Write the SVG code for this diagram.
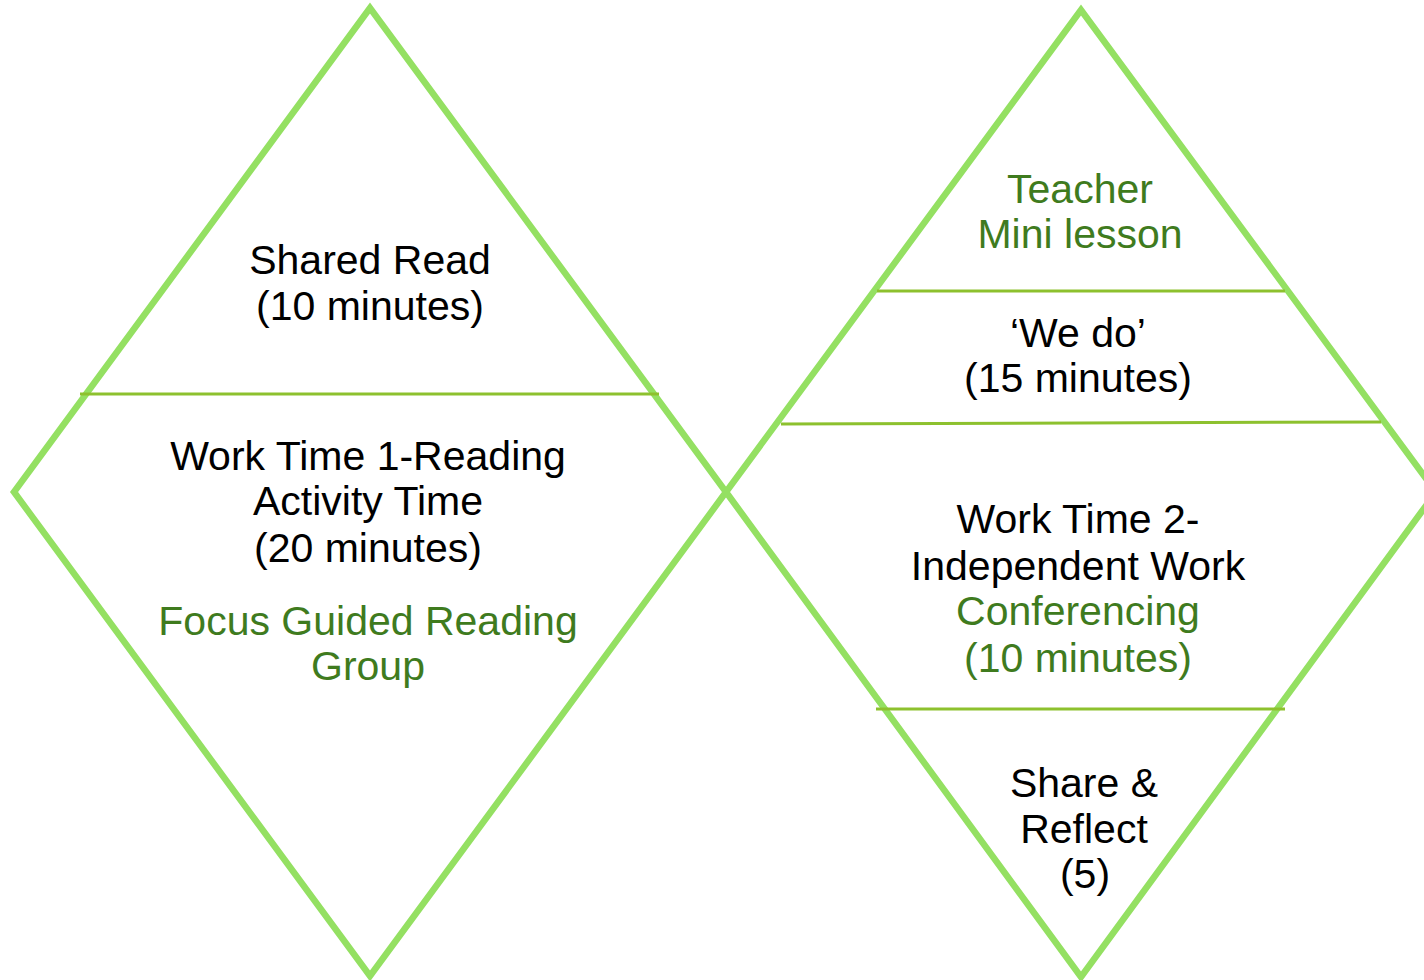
<svg xmlns="http://www.w3.org/2000/svg" width="1424" height="980" viewBox="0 0 1424 980">
<style>
.dia{fill:none;stroke:#94E062;stroke-width:6.5;stroke-linejoin:miter}
.div{stroke:#8DC12E;stroke-width:3}
text{font-family:"Liberation Sans",Arial,sans-serif;font-size:41px;text-anchor:middle}
.k{fill:#000}
.g{fill:#3F7B1E}
</style>
<rect width="1424" height="980" fill="#fff"/>
<g id="left-diamond">
<polygon class="dia" points="370,8 14,492 370,976 726,492"/>
<line class="div" x1="80" y1="394" x2="659" y2="394"/>
</g>
<g id="right-diamond">
<polygon class="dia" points="1081,10 726,492 1081,977 1436,492"/>
<line class="div" x1="877" y1="291" x2="1285" y2="291"/>
<line class="div" x1="781" y1="424" x2="1381" y2="422"/>
<line class="div" x1="876" y1="709" x2="1285" y2="709"/>
</g>
<g id="shared-read">
<text class="k" x="370" y="274">Shared Read</text>
<text class="k" x="370" y="320">(10 minutes)</text>
</g>
<g id="work-time-1">
<text class="k" x="368" y="470">Work Time 1-Reading</text>
<text class="k" x="368" y="515">Activity Time</text>
<text class="k" x="368" y="562">(20 minutes)</text>
<text class="g" x="368" y="635">Focus Guided Reading</text>
<text class="g" x="368" y="680">Group</text>
</g>
<g id="teacher-mini-lesson">
<text class="g" x="1080" y="203">Teacher</text>
<text class="g" x="1080" y="248">Mini lesson</text>
</g>
<g id="we-do">
<text class="k" x="1078" y="347">‘We do’</text>
<text class="k" x="1078" y="392">(15 minutes)</text>
</g>
<g id="work-time-2">
<text class="k" x="1078" y="533">Work Time 2-</text>
<text class="k" x="1078" y="580">Independent Work</text>
<text class="g" x="1078" y="625">Conferencing</text>
<text class="g" x="1078" y="672">(10 minutes)</text>
</g>
<g id="share-reflect">
<text class="k" x="1084" y="797">Share &amp;</text>
<text class="k" x="1084" y="843">Reflect</text>
<text class="k" x="1085" y="888">(5)</text>
</g>
</svg>
